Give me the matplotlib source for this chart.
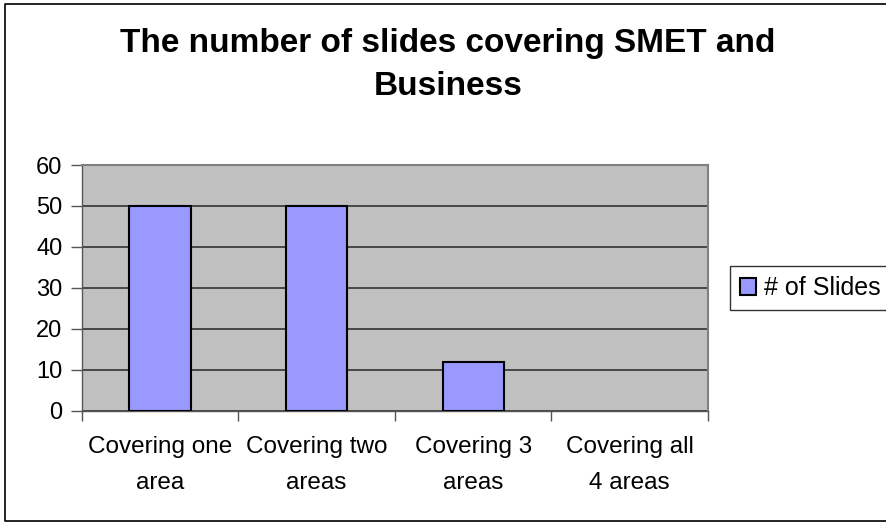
import matplotlib.pyplot as plt
from matplotlib.lines import Line2D

plt.rcParams['font.family'] = ['Liberation Sans', 'DejaVu Sans']

categories = ['Covering one\narea', 'Covering two\nareas', 'Covering 3\nareas', 'Covering all\n4 areas']
slides = [50, 50, 12, 0]
yticks = [0, 10, 20, 30, 40, 50, 60]

W, H = 886, 525
fig = plt.figure(figsize=(W / 100, H / 100), dpi=100)

# outer chart border, open on the right (it runs off the image)
bx = [1.0, 5 / W, 5 / W, 1.0]
by = [1 - 4 / H, 1 - 4 / H, 1 - 521 / H, 1 - 521 / H]
fig.add_artist(Line2D(bx, by, transform=fig.transFigure, color='black', linewidth=1.2))

# plot area in pixel coords
left, right, top, bottom = 81.7, 708, 165, 410.7
ax = fig.add_axes([left / W, 1 - bottom / H, (right - left) / W, (bottom - top) / H])
ax.set_facecolor('#C0C0C0')

x = range(len(categories))
lw = [1.5 if v else 0 for v in slides]
ax.bar(x, slides, width=0.39, color='#9999FF', edgecolor='black', linewidth=lw,
       label='# of Slides', zorder=3)

ax.set_xlim(-0.5, len(categories) - 0.5)
ax.set_ylim(0, 60)
ax.set_yticks(yticks)
ax.tick_params(axis='y', labelsize=17, length=8, width=1, color='#555555', pad=6)
ax.set_xticks([i + 0.5 for i in range(-1, len(categories))], minor=False)
ax.set_xticklabels([''] * (len(categories) + 1))
ax.tick_params(axis='x', length=7, width=1, color='#555555')
ax.set_xticks(list(x), minor=True)
ax.set_xticklabels(categories, minor=True, fontsize=17.5, linespacing=1.85)
ax.tick_params(axis='x', which='minor', length=0, pad=18)
ax.grid(axis='y', color='#333333', linewidth=1.2, zorder=1)

for s in ['top', 'right']:
    ax.spines[s].set_color('#808080')
    ax.spines[s].set_linewidth(1.5)
for s in ['left', 'bottom']:
    ax.spines[s].set_color('#555555')
    ax.spines[s].set_linewidth(1)

fig.text(448 / W, 1 - 65 / H, 'The number of slides covering SMET and\nBusiness',
         ha='center', va='center', fontsize=24, fontweight='bold', linespacing=1.5)

leg = ax.legend(loc='center left', bbox_to_anchor=(730 / W, 1 - 288 / H), bbox_transform=fig.transFigure,
                fontsize=18, frameon=True, fancybox=False, edgecolor='black', borderpad=0.4,
                handlelength=0.65, handleheight=0.65, handletextpad=0.3, borderaxespad=0)
leg.get_frame().set_linewidth(1)

fig.savefig('out.png', dpi=100)
